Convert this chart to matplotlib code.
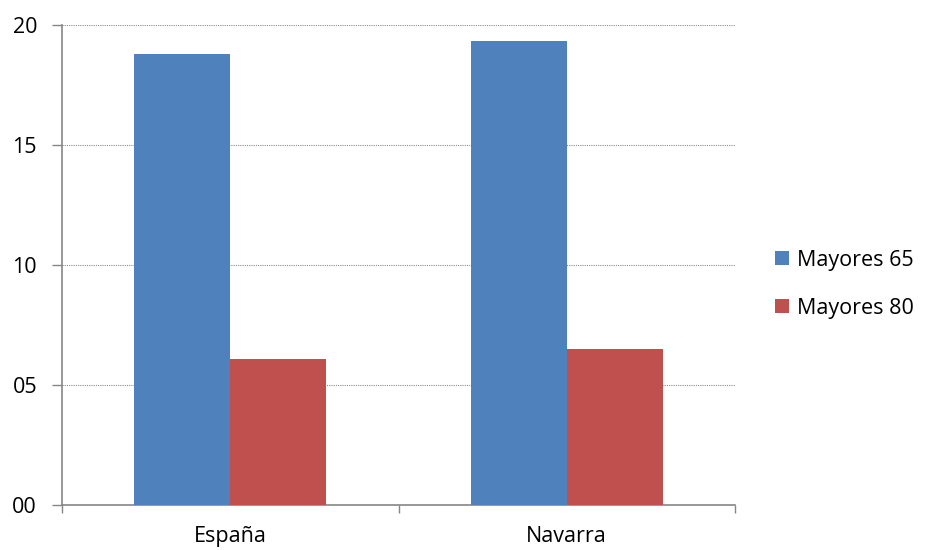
import numpy as np
import matplotlib.pyplot as plt
from matplotlib.ticker import FixedLocator, FuncFormatter

regions = ['España', 'Navarra']
series = ['Mayores 65', 'Mayores 80']
mayores_65 = [18.8, 19.35]
mayores_80 = [6.1, 6.5]
colors = ['#4F81BD', '#C0504D']

plt.rcParams['font.family'] = ['Open Sans', 'DejaVu Sans']
plt.rcParams['font.size'] = 15.5

fig = plt.figure(figsize=(9.3, 5.5), dpi=100)
ax = fig.add_axes([62 / 930, 45 / 550, 673 / 930, 480 / 550])

x = np.arange(len(regions))
w = 0.285
ax.bar(x - w / 2, mayores_65, w, color=colors[0], label=series[0], zorder=3)
ax.bar(x + w / 2, mayores_80, w, color=colors[1], label=series[1], zorder=3)

ax.set_xlim(-0.5, len(regions) - 0.5)
ax.set_ylim(0, 20)
ax.set_yticks([0, 5, 10, 15, 20])
ax.yaxis.set_major_formatter(FuncFormatter(lambda v, p: '%02d' % v))
ax.grid(axis='y', color='#8c8c8c', linestyle=(0, (1, 1)), linewidth=0.8, zorder=0)

# category labels centered, tick marks between categories
ax.set_xticks(x)
ax.set_xticklabels(regions)
ax.tick_params(axis='x', which='major', length=0, pad=15)
ax.xaxis.set_minor_locator(FixedLocator(np.arange(-0.5, len(regions), 1.0)))
ax.tick_params(axis='x', which='minor', length=6, color='#868686', width=1)
ax.tick_params(axis='y', length=7, color='#868686', width=1, pad=11)

for s in ['top', 'right']:
    ax.spines[s].set_visible(False)
for s in ['left', 'bottom']:
    ax.spines[s].set_color('#868686')
    ax.spines[s].set_linewidth(1.2)

ax.legend(loc='center left', bbox_to_anchor=(1.03, 0.46), frameon=False,
          handlelength=0.65, handleheight=0.65, handletextpad=0.4, labelspacing=1.25)

fig.savefig('out.png', dpi=100)
